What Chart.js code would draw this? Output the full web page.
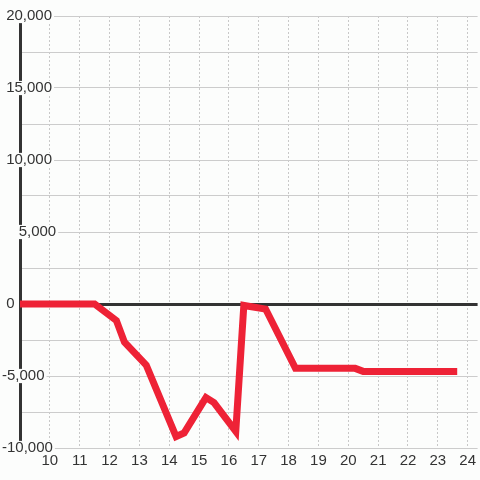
<!DOCTYPE html>
<html>
<head>
<meta charset="utf-8">
<script src="https://cdn.jsdelivr.net/npm/chart.js@4"></script>
<style>
  html, body { margin: 0; padding: 0; background: #fcfdfc; }
  #wrap { width: 480px; height: 480px; }
</style>
</head>
<body>
<div id="wrap"><canvas id="chart"></canvas></div>
<script>
// ===== DATA =====
const X_VALUES = [8.5, 11.5, 12.23, 12.5, 13.23, 14.23, 14.5, 15.23, 15.5, 16.23, 16.5, 17.23, 18.23, 20.23, 20.5, 23.65];
const Y_VALUES = [0, 0, -1150, -2650, -4250, -9200, -8950, -6500, -6850, -8850, -100, -350, -4470, -4470, -4680, -4680];

const X_TICKS = [10, 11, 12, 13, 14, 15, 16, 17, 18, 19, 20, 21, 22, 23, 24];
const Y_LABELS = [-10000, -5000, 0, 5000, 10000, 15000, 20000];

// ===== STYLE =====
const BG = '#fcfdfc';
const FONT = "'Liberation Sans', Arial, sans-serif";
// labels sit a little unevenly in the source; nudge with leading spaces
const labelIndent = v => (v === 5000 ? '    ' : v >= 0 ? ' ' : '');

const bgPlugin = {
  id: 'bg',
  beforeDraw(c) {
    const ctx = c.ctx;
    ctx.save();
    ctx.fillStyle = BG;
    ctx.fillRect(0, 0, c.width, c.height);
    ctx.restore();
  }
};

new Chart(document.getElementById('chart'), {
  type: 'line',
  data: {
    datasets: [{
      data: X_VALUES.map((x, i) => ({ x, y: Y_VALUES[i] })),
      borderColor: '#ee2236',
      borderWidth: 7,
      pointRadius: 0,
      tension: 0,
      fill: false
    }]
  },
  options: {
    responsive: true,
    maintainAspectRatio: false,
    animation: false,
    layout: { padding: { top: 16, left: 2, right: 0, bottom: 0 } },
    plugins: { legend: { display: false }, tooltip: { enabled: false } },
    scales: {
      x: {
        type: 'linear',
        min: 9,
        max: 24.333,
        afterBuildTicks: s => { s.ticks = X_TICKS.map(v => ({ value: v })); },
        afterFit: s => { s.height = 32; },
        grid: { color: '#c8c8c8', lineWidth: 1, drawTicks: false },
        border: { display: false, dash: [2, 2] },
        ticks: {
          color: '#333',
          padding: 4,
          autoSkip: false,
          maxRotation: 0,
          font: { family: FONT, size: 15, lineHeight: 1.2 },
          callback: v => String(v)
        }
      },
      y: {
        min: -10000,
        max: 20000,
        afterFit: s => { s.width = 18; },
        grid: {
          color: c => c.tick && c.tick.value === 0 ? '#333' : '#cccccc',
          lineWidth: c => c.tick && c.tick.value === 0 ? 3 : 1,
          drawTicks: false
        },
        border: { display: true, color: '#333', width: 3 },
        ticks: {
          stepSize: 2500,
          autoSkip: false,
          mirror: true,
          padding: -18,
          color: '#333',
          font: { family: FONT, size: 15, lineHeight: 0.95 },
          callback: v => Y_LABELS.includes(v) ? labelIndent(v) + v.toLocaleString('en-US') : '',
          showLabelBackdrop: true,
          backdropColor: c => Y_LABELS.includes(c.tick.value) ? BG : 'rgba(0,0,0,0)',
          backdropPadding: { left: 0, right: 2, top: 0, bottom: 0 }
        }
      }
    }
  },
  plugins: [bgPlugin]
});
</script>
</body>
</html>
